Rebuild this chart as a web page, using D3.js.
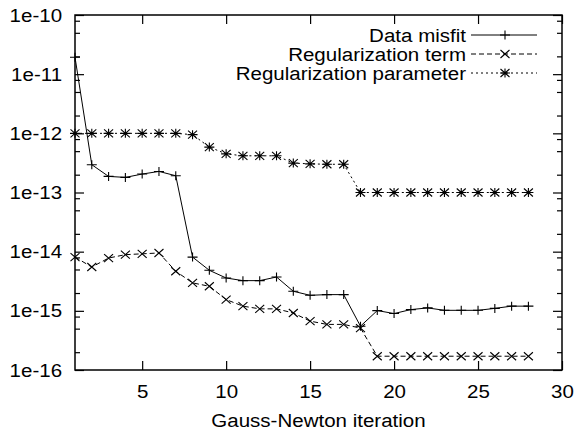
<!DOCTYPE html>
<html>
<head>
<meta charset="utf-8">
<style>
  body { margin: 0; background: #fff; }
  svg { display: block; }
  text { font-family: "Liberation Sans", Arial, sans-serif; fill: #000; }
</style>
<script src="https://d3js.org/d3.v7.min.js"></script>
</head>
<body>
<svg width="575" height="434"></svg>
<script>
// iterations 1..28
var iterations = d3.range(1, 29);

var dataMisfit = [
  1.93e-11, 2.95e-13, 1.87e-13, 1.80e-13, 2.05e-13, 2.27e-13, 1.92e-13,
  8.1e-15, 4.84e-15, 3.59e-15, 3.24e-15, 3.24e-15, 3.73e-15, 2.14e-15,
  1.83e-15, 1.88e-15, 1.88e-15, 5.5e-16, 1.01e-15, 9.0e-16, 1.05e-15,
  1.12e-15, 1.02e-15, 1.02e-15, 1.02e-15, 1.10e-15, 1.20e-15, 1.20e-15
];

var regTerm = [
  8.1e-15, 5.5e-15, 7.8e-15, 8.9e-15, 9.2e-15, 9.5e-15, 4.67e-15,
  2.97e-15, 2.6e-15, 1.55e-15, 1.2e-15, 1.08e-15, 1.08e-15, 9.2e-16,
  6.7e-16, 5.9e-16, 5.9e-16, 5.1e-16, 1.71e-16, 1.71e-16, 1.71e-16,
  1.71e-16, 1.71e-16, 1.71e-16, 1.71e-16, 1.71e-16, 1.71e-16, 1.71e-16
];

var regParam = [
  1e-12, 1e-12, 1e-12, 1e-12, 1e-12, 1e-12, 1e-12,
  9.5e-13, 5.85e-13, 4.5e-13, 4.17e-13, 4.17e-13, 4.17e-13, 3.14e-13,
  3.05e-13, 3.0e-13, 3.0e-13, 1e-13, 1e-13, 1e-13, 1e-13,
  1e-13, 1e-13, 1e-13, 1e-13, 1e-13, 1e-13, 1e-13
];

var seriesNames = ["Data misfit", "Regularization term", "Regularization parameter"];
var xTicks = [5, 10, 15, 20, 25, 30];
var yTicks = [1e-16, 1e-15, 1e-14, 1e-13, 1e-12, 1e-11, 1e-10];
var yTickLabels = ["1e-16", "1e-15", "1e-14", "1e-13", "1e-12", "1e-11", "1e-10"];
var xLabel = "Gauss-Newton iteration";

(function() {
  var svg = d3.select("svg");
  var pl = 75, pr = 562, pt = 15, pb = 370;
  var sx = 1.08; // glyphs in the reference are a bit wide

  var x = d3.scaleLinear().domain([1, 30]).range([pl, pr]);
  var y = d3.scaleLog().domain([1e-16, 1e-10]).range([pb, pt]);

  // minor ticks at 2,5,8 of every decade
  var minor = [];
  yTicks.slice(0, -1).forEach(function(d) { [2, 5, 8].forEach(function(m) { minor.push(d * m); }); });

  function stretch(sel) {
    sel.selectAll("text").attr("transform", "scale(" + sx + ",1)");
  }
  function noDomain(g) { g.select(".domain").remove(); }

  // left axis
  svg.append("g")
    .attr("transform", "translate(" + pl + ",0)")
    .call(d3.axisLeft(y).tickValues(yTicks).tickSize(-9).tickPadding(12)
      .tickFormat(function(d, i) { return yTickLabels[i]; }))
    .call(noDomain)
    .attr("font-size", 19).attr("font-family", null)
    .call(stretch);

  svg.append("g")
    .attr("transform", "translate(" + pl + ",0)")
    .call(d3.axisLeft(y).tickValues(minor).tickSize(-5).tickFormat(""))
    .call(noDomain);

  // right axis
  svg.append("g")
    .attr("transform", "translate(" + pr + ",0)")
    .call(d3.axisRight(y).tickValues(yTicks).tickSize(-9).tickFormat(""))
    .call(noDomain);

  svg.append("g")
    .attr("transform", "translate(" + pr + ",0)")
    .call(d3.axisRight(y).tickValues(minor).tickSize(-5).tickFormat(""))
    .call(noDomain);

  // bottom axis
  svg.append("g")
    .attr("transform", "translate(0," + pb + ")")
    .call(d3.axisBottom(x).tickValues(xTicks).tickSize(-9).tickPadding(15))
    .call(noDomain)
    .attr("font-size", 19).attr("font-family", null)
    .call(stretch);

  // top axis
  svg.append("g")
    .attr("transform", "translate(0," + pt + ")")
    .call(d3.axisTop(x).tickValues(xTicks).tickSize(-9).tickFormat(""))
    .call(noDomain);

  svg.selectAll(".tick line").attr("stroke", "#000").attr("stroke-width", 1.2);

  // frame
  svg.append("rect")
    .attr("x", pl).attr("y", pt)
    .attr("width", pr - pl).attr("height", pb - pt)
    .attr("fill", "none").attr("stroke", "#000").attr("stroke-width", 1.5);

  // x label
  svg.append("text")
    .attr("transform", "translate(" + ((pl + pr) / 2) + ",427) scale(" + sx + ",1)")
    .attr("text-anchor", "middle").attr("font-size", 19)
    .text(xLabel);

  var symbols = {
    plus: "M-5,0H5M0,-4.5V4.5",
    cross: "M-4.5,-4L4.5,4M-4.5,4L4.5,-4",
    star: "M-5,0H5M0,-4.5V4.5M-4.5,-4L4.5,4M-4.5,4L4.5,-4"
  };

  var series = [
    { name: seriesNames[0], values: dataMisfit, dash: null, sym: symbols.plus },
    { name: seriesNames[1], values: regTerm, dash: "5,3", sym: symbols.cross },
    { name: seriesNames[2], values: regParam, dash: "2,3", sym: symbols.star }
  ];

  var line = d3.line()
    .x(function(d, i) { return x(iterations[i]); })
    .y(function(d) { return y(d); });

  series.forEach(function(s, k) {
    var g = svg.append("g");
    g.append("path")
      .attr("d", line(s.values))
      .attr("fill", "none").attr("stroke", "#000").attr("stroke-width", 1)
      .attr("stroke-dasharray", s.dash);
    g.selectAll("path.m")
      .data(s.values)
      .enter().append("path")
      .attr("class", "m")
      .attr("d", s.sym)
      .attr("transform", function(d, i) { return "translate(" + x(iterations[i]) + "," + y(d) + ")"; })
      .attr("fill", "none").attr("stroke", "#000").attr("stroke-width", 1.1);

    // legend
    var ly = 35 + k * 19;
    svg.append("text")
      .attr("transform", "translate(466," + (ly + 6.5) + ") scale(" + sx + ",1)")
      .attr("text-anchor", "end").attr("font-size", 19)
      .text(s.name);
    svg.append("line")
      .attr("x1", 471).attr("x2", 537).attr("y1", ly).attr("y2", ly)
      .attr("stroke", "#000").attr("stroke-width", 1)
      .attr("stroke-dasharray", s.dash);
    svg.append("path")
      .attr("d", s.sym)
      .attr("transform", "translate(505," + ly + ")")
      .attr("fill", "none").attr("stroke", "#000").attr("stroke-width", 1.1);
  });
})();
</script>
</body>
</html>
